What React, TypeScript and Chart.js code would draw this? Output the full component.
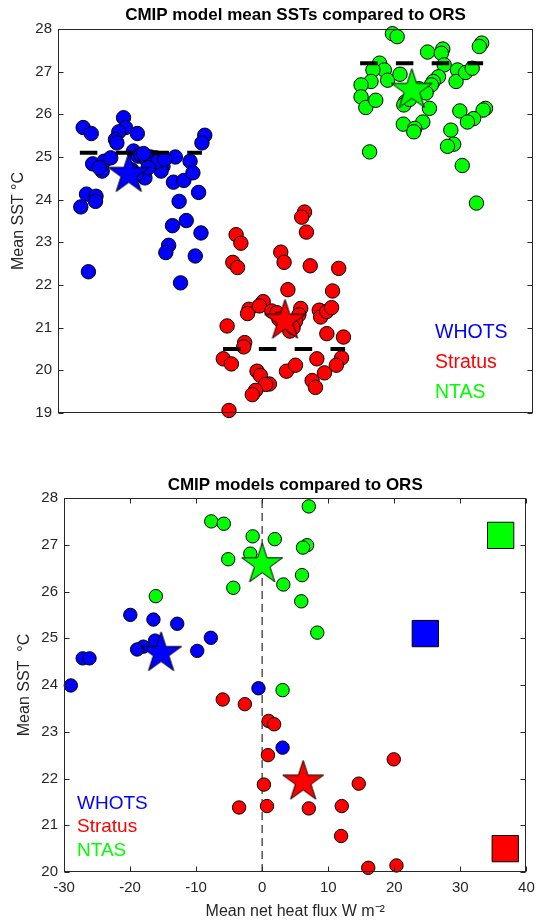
import React, { useEffect, useRef } from 'react';
import { Chart, registerables } from 'chart.js';

Chart.register(...registerables);

const FONT = "'Liberation Sans', Arial, Helvetica, sans-serif";
const TICK_COLOR = '#262626';

// ---------- shared ----------
const groupNames = ['WHOTS', 'Stratus', 'NTAS'];
const groupColors = ['#0000ff', '#ff0000', '#00ff00'];
const obsSST = [25.1, 20.5, 27.2];

// ---------- top chart: model mean SSTs (x = jitter within group) ----------
const topTitle = 'CMIP model mean SSTs compared to ORS';
const whotsJitter = [0.53, 0.70, 1.38, 1.42, 1.28, 1.21, 1.24, 1.67, 3.09, 3.03, 0.73, 0.97, 0.93, 1.11, 0.87, 1.59, 1.69, 1.83, 2.06, 2.21, 2.17, 2.47, 2.43, 2.65, 2.78, 2.84, 2.96, 2.55, 0.60, 0.80, 0.79, 0.48, 2.41, 2.70, 3.01, 2.33, 2.27, 2.89, 0.64, 2.58, 1.75, 1.85, 1.95, 2.0, 2.1, 1.55, 1.9, 2.25, 1.8, 1.65];
const whotsSST = [25.69, 25.55, 25.92, 25.69, 25.59, 25.41, 25.33, 25.55, 25.51, 25.33, 24.84, 24.90, 24.67, 24.98, 24.75, 25.14, 25.02, 24.51, 24.98, 24.78, 24.67, 25.00, 24.41, 24.45, 24.90, 24.63, 24.17, 23.96, 24.13, 24.08, 23.96, 23.83, 23.39, 23.51, 23.22, 22.93, 22.76, 22.68, 22.31, 22.05, 25.05, 24.95, 25.0, 24.85, 24.9, 24.7, 24.75, 24.95, 25.08, 24.6];

const stratusJitter = [5.19, 5.13, 5.23, 3.75, 3.85, 4.69, 4.76, 3.68, 3.78, 5.31, 5.91, 4.84, 5.78, 4.32, 4.02, 3.99, 4.24, 4.50, 4.61, 5.11, 5.07, 5.50, 5.53, 5.66, 5.76, 4.88, 3.56, 5.66, 6.01, 3.93, 3.91, 3.48, 3.65, 4.19, 4.26, 4.81, 5.00, 5.45, 5.97, 5.86, 5.61, 5.35, 5.42, 4.45, 4.37, 4.16, 4.09, 3.60, 4.65, 5.0, 4.95];
const stratusSST = [23.71, 23.59, 23.24, 23.18, 22.98, 22.77, 22.53, 22.53, 22.41, 22.45, 22.39, 21.89, 21.86, 21.61, 21.43, 21.33, 21.51, 21.39, 21.35, 21.45, 21.30, 21.41, 21.25, 21.38, 21.47, 20.92, 21.04, 20.86, 20.78, 20.65, 20.55, 20.27, 20.15, 19.98, 19.88, 19.98, 20.12, 20.27, 20.29, 20.12, 19.94, 19.76, 19.60, 19.68, 19.67, 19.53, 19.43, 19.06, 21.2, 21.15, 21.0];

const ntasJitter = [7.04, 7.14, 8.92, 8.87, 7.78, 8.10, 8.07, 6.77, 8.13, 6.87, 6.63, 6.94, 7.20, 6.59, 6.38, 6.38, 6.48, 6.69, 8.41, 8.38, 8.58, 8.72, 8.01, 7.90, 7.86, 7.31, 7.28, 7.82, 8.46, 9.00, 8.95, 8.75, 8.62, 7.27, 7.68, 7.51, 7.49, 8.27, 8.33, 8.20, 6.56, 8.51, 8.81, 7.6, 7.75, 7.4];
const ntasSST = [27.89, 27.82, 27.67, 27.59, 27.46, 27.53, 27.43, 27.20, 27.16, 27.04, 27.04, 26.80, 26.94, 26.77, 26.69, 26.41, 26.16, 26.33, 27.04, 26.77, 26.98, 27.08, 26.88, 26.77, 26.69, 26.29, 26.22, 26.14, 26.08, 26.14, 26.10, 25.90, 25.82, 25.77, 25.82, 25.67, 25.59, 25.63, 25.30, 25.25, 25.12, 24.80, 23.92, 26.6, 26.5, 26.35];

const meanJitter = [1.49, 4.78, 7.45];
const meanSSTTop = [24.6, 21.16, 26.57];
const obsSpanStart = [0.46, 3.475, 6.36];
const obsSpanEnd = [3.03, 6.045, 8.95];

const topYTicks = [19, 20, 21, 22, 23, 24, 25, 26, 27, 28];

// ---------- bottom chart: SST vs net heat flux ----------
const bottomTitle = 'CMIP models compared to ORS';
const whotsFlux = [-19.96, -16.46, -12.86, -7.77, -9.83, -16.21, -18.0, -18.93, -27.17, -26.14, -28.97, -0.56, 3.09];
const whotsSST2 = [25.50, 25.40, 25.31, 25.01, 24.73, 24.95, 24.82, 24.76, 24.57, 24.57, 23.99, 23.93, 22.66];
const stratusFlux = [-5.97, -2.62, 0.98, 1.81, 0.88, 19.92, 14.62, 0.26, -3.49, 0.73, 7.06, 12.05, 11.95, 16.06, 20.33];
const stratusSST2 = [23.69, 23.59, 23.23, 23.16, 22.50, 22.41, 21.89, 21.87, 21.38, 21.41, 21.36, 21.41, 20.77, 20.09, 20.14];
const ntasFlux = [7.06, -7.71, -5.81, -1.44, 1.91, 6.80, 6.18, -1.80, -5.14, -4.37, 3.20, 6.03, 5.92, 8.34, -16.10, 3.09];
const ntasSST2 = [27.82, 27.50, 27.45, 27.18, 27.12, 26.99, 26.94, 26.81, 26.69, 26.08, 26.15, 26.35, 25.79, 25.12, 25.90, 23.89];

const meanFlux = [-15.3, 6.2, 0.0];
const meanSSTBottom = [24.68, 21.93, 26.58];
const obsFlux = [24.7, 36.8, 36.1];
const zeroFlux = [0, 0];
const zeroLineSST = [20, 28];

const bottomXTicks = [-30, -20, -10, 0, 10, 20, 30, 40];
const bottomYTicks = [20, 21, 22, 23, 24, 25, 26, 27, 28];

const zip = (xs: number[], ys: number[]) => xs.map((x, i) => ({ x, y: ys[i] }));

function makeStar(color: string, R: number): HTMLCanvasElement {
  const size = Math.ceil(2 * R + 4);
  const c = document.createElement('canvas');
  c.width = size;
  c.height = size;
  const ctx = c.getContext('2d')!;
  const cx = size / 2;
  const cy = size / 2;
  const r = R * 0.382;
  ctx.beginPath();
  for (let i = 0; i < 10; i++) {
    const ang = -Math.PI / 2 + (i * Math.PI) / 5;
    const rad = i % 2 === 0 ? R : r;
    const px = cx + rad * Math.cos(ang);
    const py = cy + rad * Math.sin(ang);
    if (i === 0) ctx.moveTo(px, py);
    else ctx.lineTo(px, py);
  }
  ctx.closePath();
  ctx.fillStyle = color;
  ctx.fill();
  ctx.lineWidth = 1;
  ctx.strokeStyle = '#000';
  ctx.stroke();
  return c;
}

function framePlugin(opts: {
  title: string;
  titleY: number;
  xTicks: boolean;
  legendLeft: (a: any) => number;
  legendYs: (a: any) => number[];
  legendFont: number;
}) {
  return {
    id: 'frameTicks',
    afterDraw(chart: any) {
      const { ctx, chartArea: a, scales } = chart;
      ctx.save();
      // title centred over the axes
      ctx.fillStyle = '#000';
      ctx.font = `bold 17px ${FONT}`;
      ctx.textAlign = 'center';
      ctx.textBaseline = 'middle';
      ctx.fillText(opts.title, (a.left + a.right) / 2, opts.titleY);

      ctx.strokeStyle = TICK_COLOR;
      ctx.lineWidth = 1;
      const L = Math.round(a.left) + 0.5;
      const R = Math.round(a.right) - 0.5;
      const T = Math.round(a.top) + 0.5;
      const B = Math.round(a.bottom) - 0.5;
      ctx.strokeRect(L, T, R - L, B - T);
      const tl = 5;
      ctx.beginPath();
      const ys = scales.y;
      ys.ticks.forEach((t: any) => {
        const p = Math.round(ys.getPixelForValue(t.value)) + 0.5;
        ctx.moveTo(L, p); ctx.lineTo(L + tl, p);
        ctx.moveTo(R, p); ctx.lineTo(R - tl, p);
      });
      if (opts.xTicks) {
        const xs = scales.x;
        xs.ticks.forEach((t: any) => {
          const p = Math.round(xs.getPixelForValue(t.value)) + 0.5;
          ctx.moveTo(p, B); ctx.lineTo(p, B - tl);
          ctx.moveTo(p, T); ctx.lineTo(p, T + tl);
        });
      }
      ctx.stroke();
      // text legend
      ctx.font = `${opts.legendFont}px ${FONT}`;
      ctx.textBaseline = 'middle';
      ctx.textAlign = 'left';
      const lx = opts.legendLeft(a);
      const lys = opts.legendYs(a);
      groupNames.forEach((n, i) => {
        ctx.fillStyle = groupColors[i];
        ctx.fillText(n, lx, lys[i]);
      });
      ctx.restore();
    },
  };
}

export default function App() {
  const topRef = useRef<HTMLCanvasElement>(null);
  const botRef = useRef<HTMLCanvasElement>(null);

  useEffect(() => {
    const stars = groupColors.map((c) => makeStar(c, 21.5));

    const circle = (label: string, color: string, data: any[], r: number) => ({
      label,
      data,
      pointStyle: 'circle',
      pointRadius: r,
      pointBackgroundColor: color,
      pointBorderColor: '#000',
      pointBorderWidth: 1,
      showLine: false,
      order: 2,
      clip: false,
    });

    const tickFont = { family: FONT, size: 15 };
    const axisTitleFont = { family: FONT, size: 16 };

    // ---------- top ----------
    const topDatasets: any[] = [
      circle('WHOTS', groupColors[0], zip(whotsJitter, whotsSST), 7.2),
      circle('Stratus', groupColors[1], zip(stratusJitter, stratusSST), 7.2),
      circle('NTAS', groupColors[2], zip(ntasJitter, ntasSST), 7.2),
      ...obsSST.map((v, i) => ({
        label: `obs ${groupNames[i]}`,
        data: [{ x: obsSpanStart[i], y: v }, { x: obsSpanEnd[i], y: v }],
        showLine: true,
        borderColor: '#000',
        borderWidth: 4,
        borderDash: [17.5, 18.3],
        borderCapStyle: 'butt',
        pointRadius: 0,
        order: 1,
        clip: false,
      })),
      {
        label: 'model mean',
        data: zip(meanJitter, meanSSTTop),
        pointStyle: stars,
        pointRadius: 12,
        showLine: false,
        order: 0,
        clip: false,
      },
    ];

    const topChart = new Chart(topRef.current!, {
      type: 'scatter',
      data: { datasets: topDatasets },
      options: {
        responsive: false,
        animation: false,
        events: [],
        layout: { padding: { left: 0, right: 1, top: 29, bottom: 27 } },
        plugins: {
          legend: { display: false },
          tooltip: { enabled: false },
          title: { display: false },
        },
        scales: {
          x: { type: 'linear', min: 0, max: 10, display: false },
          y: {
            type: 'linear',
            min: 19,
            max: 28,
            afterBuildTicks: (s: any) => { s.ticks = topYTicks.map((v) => ({ value: v })); },
            afterFit: (s: any) => { s.width = 58; },
            grid: { display: false, drawTicks: false },
            border: { display: false },
            ticks: { color: TICK_COLOR, font: tickFont, padding: 6 },
            title: { display: true, text: 'Mean SST °C', color: TICK_COLOR, font: axisTitleFont, padding: { top: 9, bottom: 0 } },
          },
        },
      } as any,
      plugins: [framePlugin({
        title: topTitle,
        titleY: 15,
        xTicks: false,
        legendFont: 19.5,
        legendLeft: (a: any) => a.right - 98,
        legendYs: (a: any) => [a.bottom - 80, a.bottom - 50, a.bottom - 20.5],
      }) as any],
    });

    // ---------- bottom ----------
    const botDatasets: any[] = [
      {
        label: 'model mean',
        data: zip(meanFlux, meanSSTBottom),
        pointStyle: stars,
        pointRadius: 12,
        showLine: false,
        order: 0,
        clip: false,
      },
      {
        label: 'ORS',
        data: zip(obsFlux, obsSST),
        pointStyle: 'rect',
        pointRadius: 18.6,
        pointBackgroundColor: groupColors,
        pointBorderColor: '#000',
        pointBorderWidth: 1,
        showLine: false,
        order: 0,
        clip: false,
      },
      circle('WHOTS', groupColors[0], zip(whotsFlux, whotsSST2), 6.7),
      circle('Stratus', groupColors[1], zip(stratusFlux, stratusSST2), 6.7),
      circle('NTAS', groupColors[2], zip(ntasFlux, ntasSST2), 6.7),
      {
        label: 'zero',
        data: zip(zeroFlux, zeroLineSST),
        showLine: true,
        borderColor: '#555555',
        borderWidth: 1.5,
        borderDash: [8, 5],
        pointRadius: 0,
        order: 3,
      },
    ];

    const botChart = new Chart(botRef.current!, {
      type: 'scatter',
      data: { datasets: botDatasets },
      options: {
        responsive: false,
        animation: false,
        events: [],
        layout: { padding: { left: 0, right: 9, top: 58, bottom: 0 } },
        plugins: {
          legend: { display: false },
          tooltip: { enabled: false },
          title: { display: false },
        },
        scales: {
          x: {
            type: 'linear',
            min: -30,
            max: 40,
            afterBuildTicks: (s: any) => { s.ticks = bottomXTicks.map((v) => ({ value: v })); },
            afterFit: (s: any) => { s.height = 52; },
            grid: { display: false, drawTicks: false },
            border: { display: false },
            ticks: { color: TICK_COLOR, font: tickFont, padding: 7, maxRotation: 0 },
            title: { display: true, text: 'Mean net heat flux W m⁻²', color: TICK_COLOR, font: axisTitleFont, padding: { top: 0, bottom: 3 } },
          },
          y: {
            type: 'linear',
            min: 20,
            max: 28,
            afterBuildTicks: (s: any) => { s.ticks = bottomYTicks.map((v) => ({ value: v })); },
            afterFit: (s: any) => { s.width = 64; },
            grid: { display: false, drawTicks: false },
            border: { display: false },
            ticks: { color: TICK_COLOR, font: tickFont, padding: 6 },
            title: { display: true, text: 'Mean SST  °C', color: TICK_COLOR, font: axisTitleFont, padding: { top: 15.4, bottom: 0 } },
          },
        },
      } as any,
      plugins: [framePlugin({
        title: bottomTitle,
        titleY: 45,
        xTicks: true,
        legendFont: 19,
        legendLeft: (a: any) => a.left + 13,
        legendYs: (a: any) => [a.bottom - 68, a.bottom - 45.3, a.bottom - 21.2],
      }) as any],
    });

    return () => {
      topChart.destroy();
      botChart.destroy();
    };
  }, []);

  return (
    <div style={{ position: 'absolute', left: 0, top: 0, width: 546, height: 924, overflow: 'hidden', background: '#fff' }}>
      <canvas ref={topRef} width={546} height={440} style={{ position: 'absolute', left: 0, top: 0 }} />
      <canvas ref={botRef} width={546} height={484} style={{ position: 'absolute', left: 0, top: 440 }} />
    </div>
  );
}
